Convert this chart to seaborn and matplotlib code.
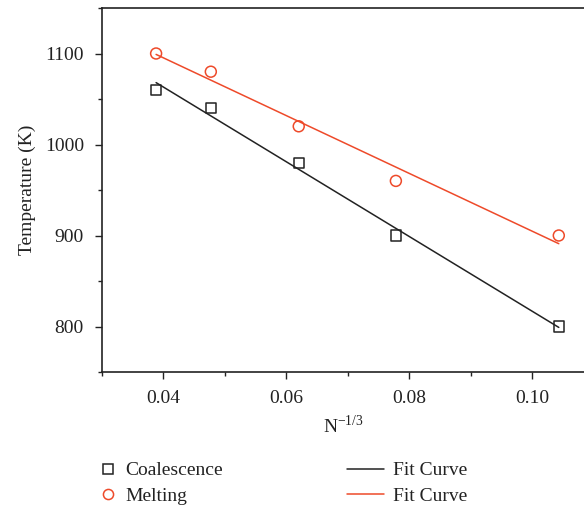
import numpy as np
import pandas as pd
import matplotlib
matplotlib.use("Agg")
import matplotlib.pyplot as plt
from matplotlib.ticker import MultipleLocator
from matplotlib.lines import Line2D
import seaborn as sns

# Data
x_vals = [0.0388, 0.0477, 0.0620, 0.0778, 0.1043]
coalescence = [1060, 1040, 980, 900, 800]
melting = [1100, 1080, 1020, 960, 900]
fit_x = [0.0388, 0.1043]
fit_coalescence = [1068, 799]
fit_melting = [1099, 891]
x_ticks = [0.04, 0.06, 0.08, 0.10]
x_tick_labels = ["0.04", "0.06", "0.08", "0.10"]
y_ticks = [800, 900, 1000, 1100]

sns.set_theme(style="ticks")
plt.rcParams['font.family'] = ['Liberation Serif', 'DejaVu Serif']
plt.rcParams['mathtext.fontset'] = 'custom'
plt.rcParams['mathtext.rm'] = 'Liberation Serif'

RED = '#EE4A2A'
DARK = '#222222'
FS = 14

fig = plt.figure(figsize=(5.84, 5.11), dpi=100)
ax = fig.add_axes([102/584, 1 - 372/511, (584 - 102)/584, (372 - 8)/511])

df_pts = pd.DataFrame({"x": x_vals, "Coalescence": coalescence, "Melting": melting})
df_fit = pd.DataFrame({"x": fit_x, "c": fit_coalescence, "m": fit_melting})

sns.lineplot(data=df_fit, x="x", y="c", ax=ax, color=DARK, lw=1.1, legend=False)
sns.lineplot(data=df_fit, x="x", y="m", ax=ax, color=RED, lw=1.1, legend=False)
sns.scatterplot(data=df_pts, x="x", y="Coalescence", ax=ax, marker='s', s=52,
                facecolor='none', edgecolor=DARK, linewidth=1.1, legend=False, zorder=3)
sns.scatterplot(data=df_pts, x="x", y="Melting", ax=ax, marker='o', s=62,
                facecolor='none', edgecolor=RED, linewidth=1.1, legend=False, zorder=3)

ax.set_xlim(0.03, 0.1084)
ax.set_ylim(750, 1150)
ax.set_xticks(x_ticks)
ax.set_xticklabels(x_tick_labels)
ax.set_yticks(y_ticks)
ax.xaxis.set_minor_locator(MultipleLocator(0.01))
ax.yaxis.set_minor_locator(MultipleLocator(50))
ax.tick_params(which='major', direction='out', length=5, width=1, colors=DARK,
               labelsize=FS, labelcolor='#222222')
ax.tick_params(axis='y', which='major', pad=8)
ax.tick_params(axis='x', which='major', pad=8)
ax.tick_params(which='minor', direction='out', length=3, width=1, colors=DARK)
for side in ['left', 'bottom', 'top']:
    ax.spines[side].set_color(DARK)
    ax.spines[side].set_linewidth(1.2)
ax.spines['right'].set_visible(False)

ax.set_xlabel(r"N$^{-1/3}$", fontsize=FS, color='#222222', labelpad=5)
ax.set_ylabel("Temperature (K)", fontsize=FS, color='#222222', labelpad=6)

handles1 = [
    Line2D([], [], ls='none', marker='s', mfc='none', mec=DARK, ms=6.8, mew=1.1),
    Line2D([], [], ls='none', marker='o', mfc='none', mec=RED, ms=7.3, mew=1.1),
]
leg1 = fig.legend(handles1, ["Coalescence", "Melting"], loc='upper left',
                  bbox_to_anchor=(90/584, 1 - 454/511), frameon=False, fontsize=FS,
                  handlelength=1.0, handletextpad=0.4, labelspacing=0.42, borderaxespad=0)
handles2 = [
    Line2D([], [], color=DARK, lw=1.1),
    Line2D([], [], color=RED, lw=1.1),
]
leg2 = fig.legend(handles2, ["Fit Curve", "Fit Curve"], loc='upper left',
                  bbox_to_anchor=(339/584, 1 - 454/511), frameon=False, fontsize=FS,
                  handlelength=1.9, handletextpad=0.5, labelspacing=0.42, borderaxespad=0)
for leg in (leg1, leg2):
    for t in leg.get_texts():
        t.set_color('#222222')

fig.savefig("out.png", dpi=100)
